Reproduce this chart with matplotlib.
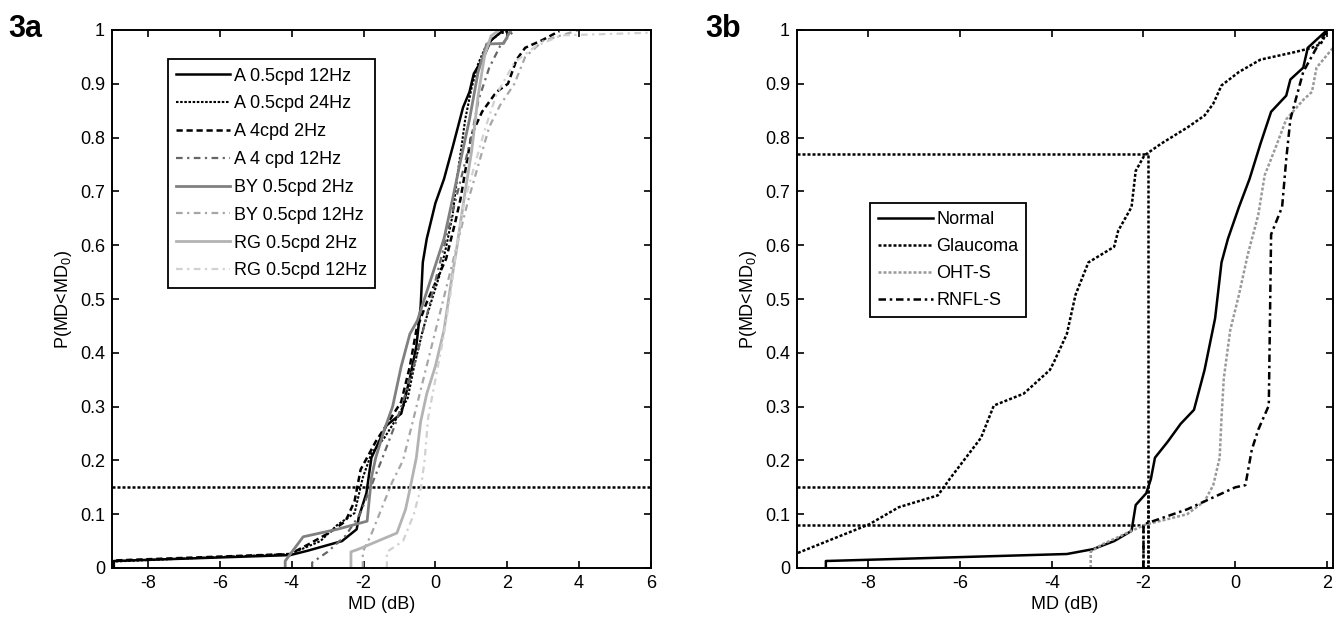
import matplotlib
matplotlib.use("Agg")
import matplotlib.pyplot as plt
from matplotlib.ticker import FormatStrFormatter

plt.rcParams['font.family'] = ['Liberation Sans', 'DejaVu Sans']
plt.rcParams['mathtext.default'] = 'regular'
plt.rcParams['axes.unicode_minus'] = False

a05_12_x = [-8.95, -8.95, -4.04, -3.56, -2.6, -2.19, -2.13, -1.92, -1.78, -1.36, -0.95, -0.71,
            -0.53, -0.41, -0.35, -0.24, 0.0, 0.24, 0.48, 0.77, 0.95, 1.07, 1.31, 1.55, 1.9]
a05_12_y = [0.0, 0.013, 0.024, 0.032, 0.05, 0.072, 0.095, 0.139, 0.205, 0.265, 0.287, 0.353,
            0.412, 0.486, 0.568, 0.612, 0.678, 0.723, 0.782, 0.856, 0.885, 0.919, 0.945, 0.981, 1.0]

a05_24_x = [-8.95, -8.95, -4.04, -3.2, -2.73, -2.25, -2.02, -1.78, -1.42, -1.07, -0.77, -0.59,
            -0.35, -0.12, 0.12, 0.3, 0.48, 0.6, 0.71, 0.83, 1.01, 1.19, 1.43, 1.78, 2.14]
a05_24_y = [0.0, 0.012, 0.026, 0.05, 0.08, 0.102, 0.168, 0.213, 0.242, 0.279, 0.316, 0.375,
            0.442, 0.494, 0.545, 0.597, 0.656, 0.723, 0.775, 0.834, 0.893, 0.937, 0.974, 0.993, 1.0]

a4_2_x = [-8.95, -8.95, -4.04, -3.56, -2.97, -2.5, -2.25, -2.08, -1.66, -1.3, -0.95, -0.71, -0.53,
          -0.24, 0.3, 0.55, 0.7, 0.85, 1.0, 1.3, 1.7, 2.02, 2.26, 2.5, 2.97, 3.45]
a4_2_y = [0.0, 0.014, 0.026, 0.043, 0.065, 0.087, 0.124, 0.183, 0.235, 0.272, 0.309, 0.375, 0.442,
          0.494, 0.575, 0.642, 0.686, 0.745, 0.804, 0.848, 0.885, 0.9, 0.945, 0.967, 0.981, 0.998]

a4_12_x = [-3.43, -3.43, -3.0, -2.5, -2.1, -1.8, -1.5, -1.1, -0.8, -0.5, -0.2, 0.1, 0.4, 0.7,
           1.0, 1.2, 1.5, 1.8, 2.2]
a4_12_y = [0.0, 0.01, 0.03, 0.06, 0.1, 0.15, 0.2, 0.27, 0.33, 0.4, 0.48, 0.56, 0.64, 0.72,
           0.8, 0.87, 0.93, 0.97, 1.0]

by2_x = [-4.18, -4.18, -3.68, -2.73, -1.9, -1.78, -1.66, -1.42, -1.19, -0.95, -0.71, -0.5, -0.12,
         0.24, 0.48, 0.71, 0.95, 1.19, 1.43, 1.9, 2.1]
by2_y = [0.0, 0.013, 0.058, 0.072, 0.087, 0.168, 0.205, 0.257, 0.30, 0.375, 0.435, 0.46, 0.538,
         0.612, 0.686, 0.76, 0.834, 0.922, 0.974, 0.975, 1.0]

by12_x = [-2.02, -2.02, -1.8, -1.5, -1.2, -0.9, -0.6, -0.3, 0.0, 0.3, 0.6, 0.9, 1.2, 1.5, 1.8,
          2.2, 2.5, 3.0, 4.0]
by12_y = [0.0, 0.03, 0.06, 0.11, 0.16, 0.2, 0.28, 0.36, 0.44, 0.52, 0.6, 0.68, 0.75, 0.82, 0.86,
          0.9, 0.95, 0.98, 1.0]

rg2_x = [-2.35, -2.35, -2.14, -1.07, -0.83, -0.71, -0.53, -0.41, -0.24, 0.0, 0.24, 0.42, 0.6,
         0.83, 1.01, 1.19, 1.37, 1.55, 1.78]
rg2_y = [0.0, 0.03, 0.035, 0.065, 0.109, 0.146, 0.205, 0.272, 0.324, 0.375, 0.442, 0.523, 0.597,
         0.7, 0.775, 0.878, 0.952, 0.989, 1.0]

rg12_x = [-1.35, -1.35, -0.9, -0.6, -0.4, -0.3, -0.2, 0.0, 0.2, 0.4, 0.6, 0.8, 1.1, 1.4, 1.7,
          2.2, 2.8, 3.5, 6.0]
rg12_y = [0.0, 0.03, 0.05, 0.1, 0.15, 0.2, 0.28, 0.35, 0.42, 0.5, 0.6, 0.68, 0.75, 0.82, 0.88,
          0.94, 0.97, 0.99, 0.995]

ref_a_level = 0.15

# ---- 3b: subject groups ----
normal_x = [-8.92, -8.92, -3.67, -3.1, -2.64, -2.26, -2.17, -1.94, -1.84, -1.75, -1.47, -1.19,
            -0.9, -0.67, -0.44, -0.30, -0.16, 0.08, 0.31, 0.55, 0.78, 1.11, 1.2, 1.48, 1.58, 1.86, 2.0]
normal_y = [0.0, 0.013, 0.026, 0.035, 0.05, 0.069, 0.117, 0.139, 0.165, 0.205, 0.235, 0.268,
            0.294, 0.368, 0.464, 0.568, 0.612, 0.671, 0.723, 0.789, 0.848, 0.878, 0.908, 0.93,
            0.967, 0.989, 1.0]

glaucoma_x = [-9.53, -7.98, -7.33, -6.48, -6.2, -5.54, -5.26, -4.61, -4.04, -3.95, -3.67, -3.48,
              -3.2, -2.64, -2.55, -2.26, -2.17, -1.98, -1.61, -1.04, -0.67, -0.48, -0.30, 0.08,
              0.55, 1.30, 1.67, 1.86, 2.0]
glaucoma_y = [0.028, 0.081, 0.113, 0.135, 0.168, 0.242, 0.302, 0.324, 0.368, 0.383, 0.435, 0.508,
              0.568, 0.597, 0.627, 0.671, 0.738, 0.767, 0.789, 0.819, 0.841, 0.863, 0.897, 0.922,
              0.945, 0.959, 0.967, 0.974, 0.996]

ohts_x = [-3.15, -3.15, -2.92, -2.36, -1.98, -1.05, -0.67, -0.48, -0.34, -0.3, -0.25, -0.11, 0.08,
          0.27, 0.5, 0.64, 0.88, 1.11, 1.48, 1.67, 1.77, 2.13]
ohts_y = [0.0, 0.03, 0.043, 0.065, 0.08, 0.10, 0.124, 0.154, 0.205, 0.28, 0.353, 0.442, 0.508,
          0.582, 0.656, 0.73, 0.782, 0.834, 0.87, 0.885, 0.93, 0.967]

rnfl_x = [-2.0, -2.0, -1.05, 0.0, 0.22, 0.36, 0.5, 0.73, 0.78, 1.02, 1.11, 1.2, 1.48, 1.77, 2.0]
rnfl_y = [0.0, 0.081, 0.109, 0.15, 0.154, 0.22, 0.257, 0.302, 0.62, 0.671, 0.76, 0.834, 0.922,
          0.967, 1.0]

ref_b_levels = [0.77, 0.15, 0.08]
ref_b_x = [-1.9, -1.9, -2.0]

dots = (0, (1.2, 0.8))
dashdot = (0, (3, 2, 1, 2))

fig = plt.figure(figsize=(13.43, 6.25), dpi=100)
ax1 = fig.add_axes([0.0834, 0.0912, 0.4013, 0.8608])
ax2 = fig.add_axes([0.5934, 0.0912, 0.3992, 0.8608])

# 3a
ax1.axhline(ref_a_level, color='black', lw=1.8, ls=dots)
ax1.plot(a05_12_x, a05_12_y, color='black', lw=1.8, ls='-', label='A 0.5cpd 12Hz')
ax1.plot(a05_24_x, a05_24_y, color='black', lw=1.5, ls=dots, label='A 0.5cpd 24Hz')
ax1.plot(a4_2_x, a4_2_y, color='black', lw=1.8, ls=(0, (2.5, 1.5)), label='A 4cpd 2Hz')
ax1.plot(a4_12_x, a4_12_y, color='0.4', lw=1.6, ls=dashdot, label='A 4 cpd 12Hz')
ax1.plot(by2_x, by2_y, color='0.5', lw=2.0, ls='-', label='BY 0.5cpd 2Hz')
ax1.plot(by12_x, by12_y, color='0.65', lw=1.6, ls=dashdot, label='BY 0.5cpd 12Hz')
ax1.plot(rg2_x, rg2_y, color='0.7', lw=2.0, ls='-', label='RG 0.5cpd 2Hz')
ax1.plot(rg12_x, rg12_y, color='0.82', lw=1.6, ls=dashdot, label='RG 0.5cpd 12Hz')
ax1.set_xlim(-9, 6)
ax1.set_xticks(range(-8, 7, 2))
ax1.legend(loc='upper left', bbox_to_anchor=(0.087, 0.962), fontsize=13,
           handlelength=3.0, handletextpad=0.2, labelspacing=0.6, borderpad=0.45,
           fancybox=False, framealpha=1, edgecolor='black')

# 3b
for lev, xe in zip(ref_b_levels, ref_b_x):
    ax2.plot([-9.55, xe], [lev, lev], color='black', lw=1.8, ls=dots)
    ax2.plot([xe, xe], [0, lev], color='black', lw=1.8, ls=dots)
ax2.plot(normal_x, normal_y, color='black', lw=1.8, ls='-', label='Normal')
ax2.plot(glaucoma_x, glaucoma_y, color='black', lw=1.8, ls=dots, label='Glaucoma')
ax2.plot(ohts_x, ohts_y, color='0.6', lw=1.8, ls=dots, label='OHT-S')
ax2.plot(rnfl_x, rnfl_y, color='black', lw=1.8, ls=(0, (3, 1.5, 1, 1.5)), label='RNFL-S')
ax2.set_xlim(-9.55, 2.13)
ax2.set_xticks(range(-8, 3, 2))
ax2.legend(loc='upper left', bbox_to_anchor=(0.12, 0.695), fontsize=13,
           handlelength=3.0, handletextpad=0.2, labelspacing=0.55, borderpad=0.45,
           fancybox=False, framealpha=1, edgecolor='black')

for ax in (ax1, ax2):
    ax.set_ylim(0, 1)
    ax.set_yticks([i / 10 for i in range(11)])
    ax.yaxis.set_major_formatter(FormatStrFormatter('%g'))
    ax.tick_params(direction='in', top=True, right=True, length=5, width=1.2,
                   labelsize=13, pad=5)
    for s in ax.spines.values():
        s.set_linewidth(1.4)
    ax.set_xlabel('MD (dB)', fontsize=13, labelpad=3)
    ax.set_ylabel('P(MD<MD$_0$)', fontsize=13, labelpad=4)
    ax.get_legend().get_frame().set_linewidth(1.3)
    ax.get_legend().get_frame().set_boxstyle('square', pad=0)

fig.text(0.006, 0.978, '3a', fontsize=22, fontweight='bold', va='top', ha='left')
fig.text(0.525, 0.978, '3b', fontsize=22, fontweight='bold', va='top', ha='left')

fig.savefig('out.png', dpi=100)
